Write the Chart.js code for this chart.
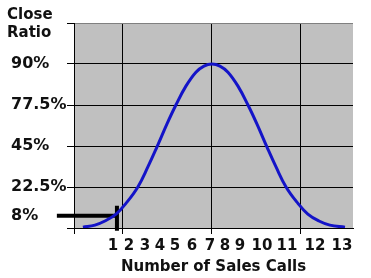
<!DOCTYPE html>
<html>
<head>
<meta charset="utf-8">
<script src="https://cdn.jsdelivr.net/npm/chart.js@4.4.1/dist/chart.umd.min.js"></script>
<style>
  body { margin: 0; background: #fff; }
  #wrap { width: 371px; height: 278px; }
</style>
</head>
<body>
<div id="wrap"><canvas id="closeRatio" width="371" height="278"></canvas></div>
<script>
// x is in call-axis units (grid lines at 3, 7, 11), y in grid rows (0 = bottom, 5 = top)
const xTickLabels = ['1', '2', '3', '4', '5', '6', '7', '8', '9', '10', '11', '12', '13'];
const xTickPos = [2.55, 3.27, 3.99, 4.66, 5.34, 6.10, 6.91, 7.58, 8.26, 9.25, 10.37, 11.63, 12.84];
const xGridPos = [0.8, 3, 7, 11];
const yTickLabels = ['', '8%', '22.5%', '45%', '77.5%', '90%', ''];
const yTickPos = [0, 0.3, 1, 2, 3, 4, 5];

const curveX = [1.20, 1.74, 2.19, 2.69, 3.18, 3.67, 4.12, 4.53, 4.98, 5.38, 5.83, 6.28, 6.64, 7.00,
  7.36, 7.72, 8.17, 8.62, 9.02, 9.47, 9.88, 10.33, 10.82, 11.31, 11.81, 12.30, 12.98];
const curveY = [0.02, 0.07, 0.17, 0.34, 0.63, 1.00, 1.49, 1.98, 2.54, 3.00, 3.46, 3.80, 3.95, 4.00,
  3.95, 3.80, 3.46, 3.00, 2.54, 1.98, 1.49, 1.00, 0.63, 0.34, 0.17, 0.07, 0.02];

// the "1 call -> 8%" marker
const markX = [0.03, 2.78];
const markY = [0.30, 0.30];
const markVX = [2.73, 2.73];
const markVY = [0.54, -0.07];

const ink = '#111';
const font = { family: 'DejaVu Sans', weight: 'bold', size: 15 };

const pts = (xs, ys) => xs.map((x, i) => ({ x: x, y: ys[i] }));

const plotBg = {
  id: 'plotBg',
  beforeDraw(chart) {
    const a = chart.chartArea;
    const ctx = chart.ctx;
    ctx.save();
    ctx.fillStyle = '#c0c0c0';
    ctx.fillRect(a.left, a.top, a.right - a.left, a.bottom - a.top);
    ctx.restore();
  },
  afterDraw(chart) {
    const ctx = chart.ctx;
    ctx.save();
    ctx.fillStyle = ink;
    ctx.font = 'bold 15px "DejaVu Sans"';
    ctx.textBaseline = 'middle';
    ctx.fillText('Close', 7, 15);
    ctx.fillText('Ratio', 7, 33);
    ctx.restore();
  }
};

new Chart(document.getElementById('closeRatio'), {
  type: 'line',
  data: {
    datasets: [
      {
        data: pts(curveX, curveY),
        borderColor: '#1414c8',
        borderWidth: 3,
        pointRadius: 0,
        tension: 0.4
      },
      {
        data: pts(markX, markY),
        borderColor: '#000',
        borderWidth: 4,
        pointRadius: 0,
        clip: false
      },
      {
        data: pts(markVX, markVY),
        borderColor: '#000',
        borderWidth: 4,
        pointRadius: 0,
        clip: false
      }
    ]
  },
  options: {
    responsive: false,
    animation: false,
    devicePixelRatio: 1,
    layout: { padding: { left: 11, right: 18, top: 23, bottom: 0 } },
    plugins: { legend: { display: false }, tooltip: { enabled: false } },
    scales: {
      x: {
        type: 'linear',
        min: 0.8,
        max: 13.34,
        afterBuildTicks: (s) => {
          s.ticks = xGridPos.concat(xTickPos).map((v) => ({ value: v }));
        },
        afterFit: (s) => { s.height = 50; },
        grid: {
          color: (c) => (c.tick && xGridPos.includes(c.tick.value) ? '#000' : 'rgba(0,0,0,0)'),
          tickColor: (c) => (c.tick && xGridPos.includes(c.tick.value) ? '#000' : 'rgba(0,0,0,0)'),
          tickLength: 6
        },
        border: { color: '#000' },
        ticks: {
          autoSkip: false,
          maxRotation: 0,
          minRotation: 0,
          padding: 3,
          color: ink,
          font: font,
          callback: (v) => {
            const i = xTickPos.indexOf(v);
            return i < 0 ? '' : xTickLabels[i];
          }
        },
        title: {
          display: true,
          text: 'Number of Sales Calls',
          color: ink,
          font: font,
          padding: { top: 0, bottom: 2 }
        }
      },
      y: {
        type: 'linear',
        min: 0,
        max: 5,
        afterBuildTicks: (s) => {
          s.ticks = yTickPos.map((v) => ({ value: v }));
        },
        afterFit: (s) => { s.width = 63; },
        grid: {
          color: (c) => {
            if (!c.tick) return '#000';
            if (c.tick.value === 5) return '#808080';
            if (c.tick.value === 0.3) return 'rgba(0,0,0,0)';
            return '#000';
          },
          tickColor: (c) => (c.tick && c.tick.value === 0.3 ? 'rgba(0,0,0,0)' : '#000'),
          tickLength: 7
        },
        border: { color: '#000' },
        ticks: {
          crossAlign: 'far',
          color: ink,
          font: { family: 'DejaVu Sans', weight: 'bold', size: 16 },
          callback: (v) => {
            const i = yTickPos.indexOf(v);
            return i < 0 ? '' : yTickLabels[i];
          }
        }
      }
    }
  },
  plugins: [plotBg]
});
</script>
</body>
</html>
